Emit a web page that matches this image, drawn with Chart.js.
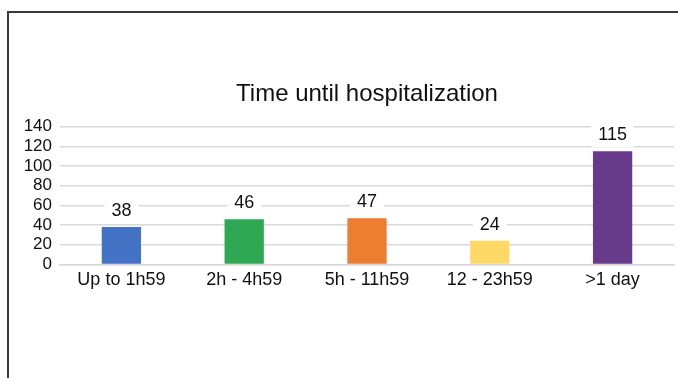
<!DOCTYPE html>
<html>
<head>
<meta charset="utf-8">
<script src="https://cdn.jsdelivr.net/npm/chart.js@4/dist/chart.umd.min.js"></script>
<style>
  html, body { margin: 0; padding: 0; background: #fff; }
  #wrap { position: relative; width: 678px; height: 378px; overflow: hidden; }
  #frame { position: absolute; left: 7px; top: 11px; right: -10px; bottom: -10px;
           border-left: 2px solid #3a3a3a; border-top: 2px solid #3a3a3a; pointer-events: none; }
  canvas { position: absolute; left: 0; top: 0; }
</style>
</head>
<body>
<div id="wrap">
  <canvas id="c" width="678" height="378"></canvas>
  <div id="frame"></div>
</div>
<script>
// Patients grouped by delay before hospital admission
const categories = ['Up to 1h59', '2h - 4h59', '5h - 11h59', '12 - 23h59', '>1 day'];
const patients = [38, 46, 47, 24, 115];
const barColors = ['#4472C4', '#2EA852', '#ED7D31', '#FFD966', '#673A8C'];
const yTicks = [0, 20, 40, 60, 80, 100, 120, 140];

const FONT = '"Liberation Sans", Arial, Helvetica, sans-serif';

// Value labels on a white box above each bar
const valueLabels = {
  id: 'valueLabels',
  afterDatasetsDraw(chart) {
    const ctx = chart.ctx;
    const meta = chart.getDatasetMeta(0);
    ctx.save();
    ctx.font = '18px ' + FONT;
    ctx.textAlign = 'center';
    ctx.textBaseline = 'middle';
    meta.data.forEach((bar, i) => {
      const text = String(chart.data.datasets[0].data[i]);
      const w = ctx.measureText(text).width + 14;
      const h = 26;
      const cy = bar.y - 17;
      ctx.fillStyle = '#ffffff';
      ctx.fillRect(bar.x - w / 2, cy - h / 2, w, h);
      ctx.fillStyle = '#111111';
      ctx.fillText(text, bar.x, cy + 1);
    });
    ctx.restore();
  }
};

new Chart(document.getElementById('c'), {
  type: 'bar',
  data: {
    labels: categories,
    datasets: [{
      data: patients,
      backgroundColor: barColors,
      borderWidth: 0,
      categoryPercentage: 1,
      barPercentage: 0.32
    }]
  },
  options: {
    responsive: false,
    animation: false,
    layout: { padding: { left: 20, right: 4, top: 0, bottom: 82 } },
    plugins: {
      legend: { display: false },
      tooltip: { enabled: false },
      title: {
        display: true,
        fullSize: false,
        text: 'Time until hospitalization',
        color: '#111111',
        font: { family: FONT, size: 24, weight: 'normal', lineHeight: 1.2 },
        padding: { top: 80, bottom: 18 }
      }
    },
    scales: {
      x: {
        grid: { display: false, drawTicks: false },
        border: { display: true, color: '#d9d9d9', width: 1.5 },
        ticks: { color: '#111111', padding: 5, autoSkip: false, maxRotation: 0,
                 font: { family: FONT, size: 18 } }
      },
      y: {
        min: 0,
        max: 140,
        afterFit(scale) { scale.width = 40; },
        afterBuildTicks(scale) { scale.ticks = yTicks.map(v => ({ value: v })); },
        grid: { color: '#d9d9d9', lineWidth: 1.5, drawTicks: false },
        border: { display: false },
        ticks: { color: '#111111', padding: 8, autoSkip: false,
                 font: { family: FONT, size: 17 } }
      }
    }
  },
  plugins: [valueLabels]
});
</script>
</body>
</html>
